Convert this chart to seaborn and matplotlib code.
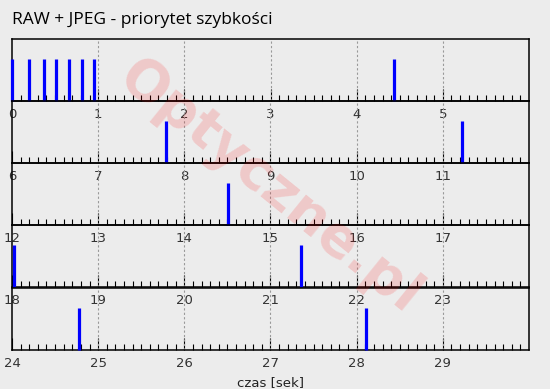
import matplotlib
matplotlib.use("Agg")
import matplotlib.pyplot as plt
import seaborn as sns
import numpy as np
from matplotlib.ticker import FixedLocator

# ---- data (seconds) ----
shot_times = [0.0, 0.20, 0.37, 0.51, 0.66, 0.81, 0.95, 4.435,
              7.79, 11.22, 14.51, 18.02, 21.35, 24.78, 28.11]
row_starts = [0, 6, 12, 18, 24]
row_span = 6
title = "RAW + JPEG - priorytet szybkości"
xlabel = "czas [sek]"
watermark = "Optyczne.pl"

BG = "#ECECEC"
sns.set_theme(style="white")
plt.rcParams["font.family"] = ["DejaVu Sans"]

W, H = 550, 389
fig = plt.figure(figsize=(W / 100, H / 100), dpi=100, facecolor=BG)

left_px, right_px = 12, 529
baselines = [101, 163, 225, 287, 350]
row_h = 62

fig.text(0.49, 0.52, watermark, fontsize=40, fontweight="bold", color="red",
         alpha=0.15, rotation=-39, ha="center", va="center", zorder=0)

times = np.array(shot_times)
for i, (start, base) in enumerate(zip(row_starts, baselines)):
    ax = fig.add_axes([left_px / W, 1 - base / H, (right_px - left_px) / W, row_h / H])
    ax.set_facecolor(BG)
    ax.patch.set_alpha(0)
    ax.set_xlim(start, start + row_span)
    ax.set_ylim(0, 1)
    sel = times[(times >= start) & (times < start + row_span)]
    sns.rugplot(x=sel, height=0.68, color="#0000FF", linewidth=2.3, ax=ax,
                expand_margins=False, zorder=5, clip_on=False)
    # dotted grid at integer seconds
    for s in range(start + 1, start + row_span):
        ax.axvline(s, color="#999999", lw=0.8, ls=(0, (2, 2)), zorder=1)
    ax.xaxis.set_major_locator(FixedLocator(list(range(start, start + row_span))))
    ax.xaxis.set_minor_locator(FixedLocator([start + k / 10 for k in range(row_span * 10) if k % 10]))
    ax.tick_params(axis="x", which="major", direction="in", length=8.5, width=0.8,
                   color="black", labelsize=9.5, labelcolor="#333333", pad=5, bottom=True)
    ax.tick_params(axis="x", which="minor", direction="in", length=4.3, width=0.8,
                   color="black", bottom=True)
    ax.set_yticks([])
    for sp in ax.spines.values():
        sp.set_color("black")
        sp.set_linewidth(1.1)
        sp.set_visible(True)
    if i == len(row_starts) - 1:
        ax.set_xlabel(xlabel, fontsize=9.5, color="#222222", labelpad=1)
        ax.xaxis.set_label_coords(0.5, -0.42)

fig.text(12 / W, 1 - 24 / H, title, fontsize=12.5, color="#000000",
         family="Open Sans", ha="left", va="baseline")

fig.savefig("out.png", dpi=100, facecolor=BG)
